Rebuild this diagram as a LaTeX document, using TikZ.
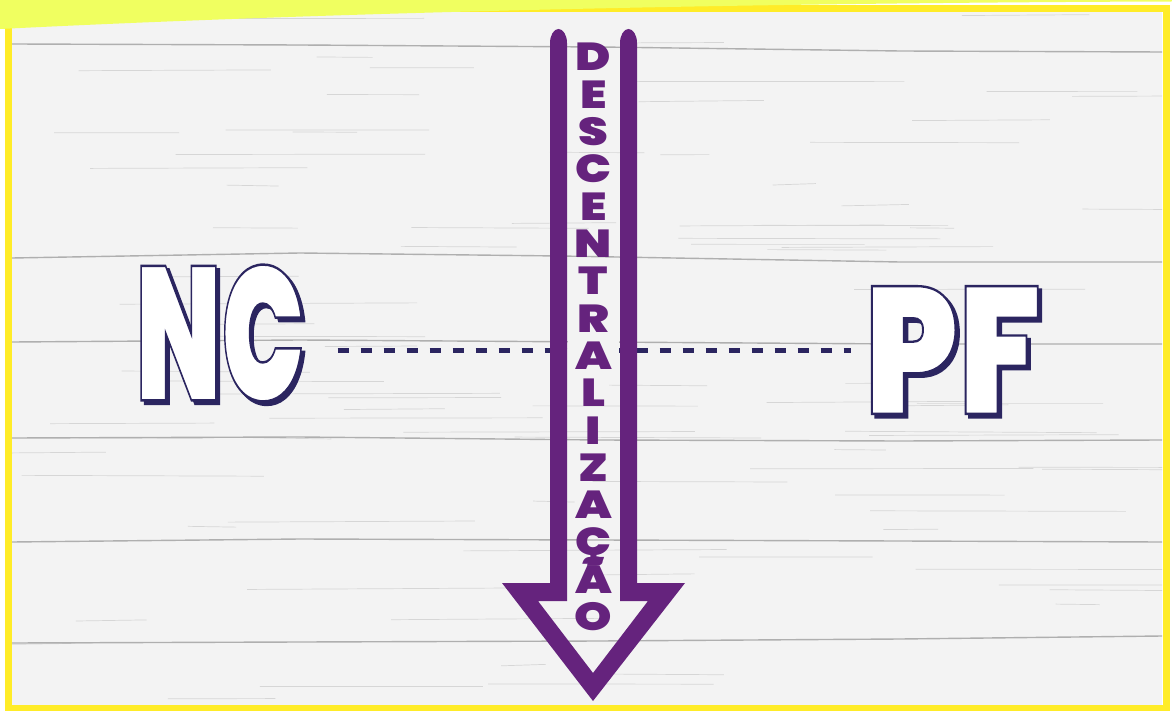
\documentclass[tikz,border=0pt]{standalone}
\usepackage{fontspec}
\newfontfamily\chunky{Poppins Black}
\newfontfamily\chunkyol{Poppins Black}[FakeBold=1.3]
\definecolor{navy}{RGB}{43,37,96}
\definecolor{purp}{RGB}{101,35,125}
\definecolor{frameyel}{RGB}{255,236,40}
\definecolor{paleyel}{RGB}{240,255,96}
\definecolor{wood}{RGB}{243,243,243}
\definecolor{plank}{RGB}{175,175,175}
\definecolor{grain}{RGB}{214,214,214}
\newcommand\olword[1]{\special{pdf:bcolor [1 1 1] [0.169 0.145 0.376]}#1\special{pdf:ecolor}}
\tikzset{
  big/.style={font=\chunkyol\fontsize{190}{190}\selectfont, inner sep=0pt},
  shadowtxt/.style={big, text=navy},
  letter/.style={font=\chunky\fontsize{39}{39}\selectfont, text=purp, inner sep=0pt, anchor=base},
  conn/.style={draw=navy, line width=5pt, dash pattern=on 11pt off 12pt},
  plankline/.style={draw=plank, line width=1.4pt},
  grainline/.style={draw=grain, line width=0.7pt},
  bigarrow/.style={fill=purp}
}
\begin{document}
\begin{tikzpicture}[x=1pt,y=-1pt]
\useasboundingbox (0,0) rectangle (1172,711);
\fill[white] (0,0) rectangle (1172,711);
\fill[wood] (12,12) rectangle (1162,705);
\begin{scope}
  \clip (12,12) rectangle (1162,705);
  \pgfmathsetseed{11}
  \foreach \k in {1,...,90}{
    \pgfmathsetmacro\yy{15+rnd*690}
    \pgfmathsetmacro\xa{rnd*1100}
    \pgfmathsetmacro\len{40+rnd*260}
    \pgfmathsetmacro\dy{rnd*3-1.5}
    \draw[grainline] (\xa,\yy) -- ++(\len,\dy);
  }
  \draw[plankline] (12,44) -- (300,45) -- (600,47) -- (900,51) -- (1162,52);
  \draw[plankline] (12,258) -- (300,253) -- (560,256) -- (900,262) -- (1162,262);
  \draw[plankline] (12,342) -- (300,340) -- (600,342) -- (900,344) -- (1162,344);
  \draw[plankline] (12,438) -- (300,437) -- (600,440) -- (900,441) -- (1162,440);
  \draw[plankline] (12,542) -- (300,539) -- (600,540) -- (900,541) -- (1162,542);
  \draw[plankline] (12,643) -- (300,642) -- (600,641) -- (900,639) -- (1162,636);
\end{scope}
\draw[frameyel, line width=7pt] (8.5,8.5) rectangle (1166,708);
\fill[white] (0,0) -- (1172,0) -- (1172,5) -- (0,5) -- cycle;
\fill[paleyel] (0,0) -- (1172,0) -- (1172,1.5) .. controls (700,3) and (300,14) .. (0,29) -- cycle;

% NC and PF
\node[shadowtxt] at (223.5,336.5) {\scalebox{0.58}[1]{NC}};
\node[big] (NC) at (220,333) {\scalebox{0.58}[1]{\olword{NC}}};
\node[shadowtxt] at (956.5,353.5) {\scalebox{0.76}[0.95]{PF}};
\node[big] (PF) at (953,350) {\scalebox{0.76}[0.95]{\olword{PF}}};

\draw[conn, shorten <=33pt, shorten >=13pt] (NC.east |- PF.west) -- (PF.west);

% arrow
\fill[wood] (568,336) rectangle (619,362);
\fill[bigarrow] (550,43) -- (550,583) -- (502,583) -- (593,701) -- (685,583) -- (637,583) -- (637,43)
  arc[start angle=0, end angle=-180, x radius=8.5, y radius=14]
  -- (620,601) -- (648,601) -- (593,673) -- (538,601) -- (567,601) -- (567,43)
  arc[start angle=0, end angle=-180, x radius=8.5, y radius=14] -- cycle;

\foreach \ch [count=\i from 0] in {D,E,S,C,E,N,T,R,A,L,I,Z,A,Ç,Ã,O}{
  \node[letter] (L\i) at (593.5,{71+\i*37.3}) {\scalebox{1.22}[1]{\ch}};
}
\end{tikzpicture}
\end{document}
